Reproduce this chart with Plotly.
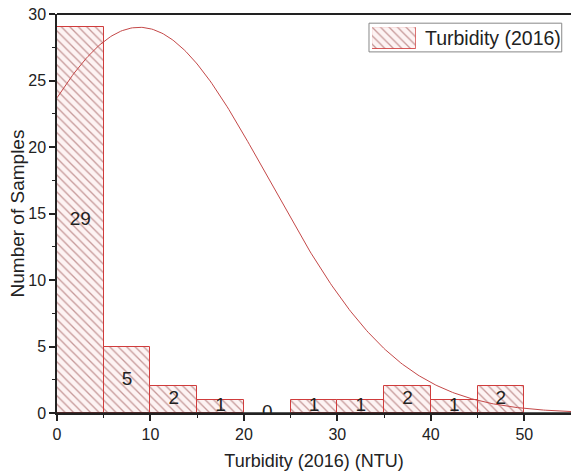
import numpy as np
import plotly.graph_objects as go

# Histogram data
bin_centers = [2.5, 7.5, 12.5, 17.5, 22.5, 27.5, 32.5, 37.5, 42.5, 47.5]
counts = [29, 5, 2, 1, 0, 1, 1, 2, 1, 2]
bin_width = 5
series_name = "Turbidity (2016)"
x_title = "Turbidity (2016) (NTU)"
y_title = "Number of Samples"

# Normal curve parameters
curve_peak = 29.0
curve_mean = 8.8
curve_sd = 13.85
curve_x = np.linspace(0, 55, 300)
curve_y = curve_peak * np.exp(-((curve_x - curve_mean) ** 2) / (2 * curve_sd ** 2))

x_ticks = [0, 10, 20, 30, 40, 50]
y_ticks = [0, 5, 10, 15, 20, 25, 30]

FONT = "Liberation Sans, Arial, sans-serif"
bar_marker = dict(
    color="#fdf2f2",
    line=dict(color="#d03c3c", width=1),
    pattern=dict(shape="\\", fgcolor="#8f4040", bgcolor="#fdf3f3", size=6, solidity=0.22),
)

fig = go.Figure()
fig.add_trace(go.Bar(
    x=bin_centers, y=[c if c > 0 else None for c in counts], width=bin_width,
    name=series_name, marker=bar_marker, showlegend=False,
))
fig.add_trace(go.Scatter(
    x=curve_x, y=curve_y, mode="lines",
    line=dict(color="#c44848", width=1), showlegend=False, hoverinfo="skip",
))
fig.add_trace(go.Scatter(
    x=bin_centers, y=[c / 2 for c in counts], mode="text",
    text=[str(c) for c in counts],
    textfont=dict(family=FONT, size=19, color="#222"),
    showlegend=False, cliponaxis=True, hoverinfo="skip",
))
# Legend swatch drawn as a bar on a hidden overlay axis
fig.add_trace(go.Bar(
    x=[0.5], y=[1], width=1, marker=bar_marker, showlegend=False,
    xaxis="x2", yaxis="y2", hoverinfo="skip",
))

fig.update_layout(
    width=571, height=474,
    margin=dict(l=57, r=0, t=14, b=61),
    plot_bgcolor="white", paper_bgcolor="white",
    bargap=0,
    font=dict(family=FONT, size=16, color="#222"),
    xaxis=dict(
        range=[0, 55], tickvals=x_ticks, ticks="outside", ticklen=6, tickwidth=1.5,
        tickcolor="#222", showline=True, linecolor="#222", linewidth=1.5,
        showgrid=False, zeroline=False,
        minor=dict(ticks="outside", ticklen=3, tickwidth=1, tickcolor="#222", dtick=5, tick0=0),
        tickfont=dict(family=FONT, size=16),
        title=dict(text=x_title, font=dict(family=FONT, size=18), standoff=12),
    ),
    yaxis=dict(
        range=[0, 30], tickvals=y_ticks, ticks="outside", ticklen=6, tickwidth=1.5,
        tickcolor="#222", showline=True, linecolor="#222", linewidth=1.5,
        showgrid=False, zeroline=False,
        minor=dict(ticks="outside", ticklen=3, tickwidth=1, tickcolor="#222", dtick=2.5, tick0=0),
        tickfont=dict(family=FONT, size=16),
    ),
    xaxis2=dict(domain=[0.613, 0.698], range=[0, 1], visible=False, anchor="y2", fixedrange=True),
    yaxis2=dict(domain=[0.912, 0.967], range=[0, 1], visible=False, anchor="x2", fixedrange=True),
    annotations=[
        dict(x=0.712, y=0.941, xref="paper", yref="paper", xanchor="left", yanchor="middle",
             text=series_name, showarrow=False, font=dict(family=FONT, size=19.5, color="#222")),
        dict(x=-0.0759, y=0.5, xref="paper", yref="paper", xanchor="center", yanchor="middle",
             text=y_title, textangle=-90, showarrow=False,
             font=dict(family=FONT, size=19, color="#222")),
    ],
)
# Legend box
fig.add_shape(type="rect", xref="paper", yref="paper", x0=0.607, x1=0.982, y0=0.905, y1=0.977,
              line=dict(color="#888", width=1), fillcolor="rgba(0,0,0,0)", layer="below")
# Bottom axis line over bar outlines
fig.add_shape(type="line", xref="x", yref="y", x0=0, x1=55, y0=0, y1=0,
              line=dict(color="#222", width=1.5))
# Top frame line
fig.add_shape(type="line", xref="paper", yref="paper", x0=0, x1=1, y0=1, y1=1,
              line=dict(color="#222", width=2))

fig.write_html("out.html")
